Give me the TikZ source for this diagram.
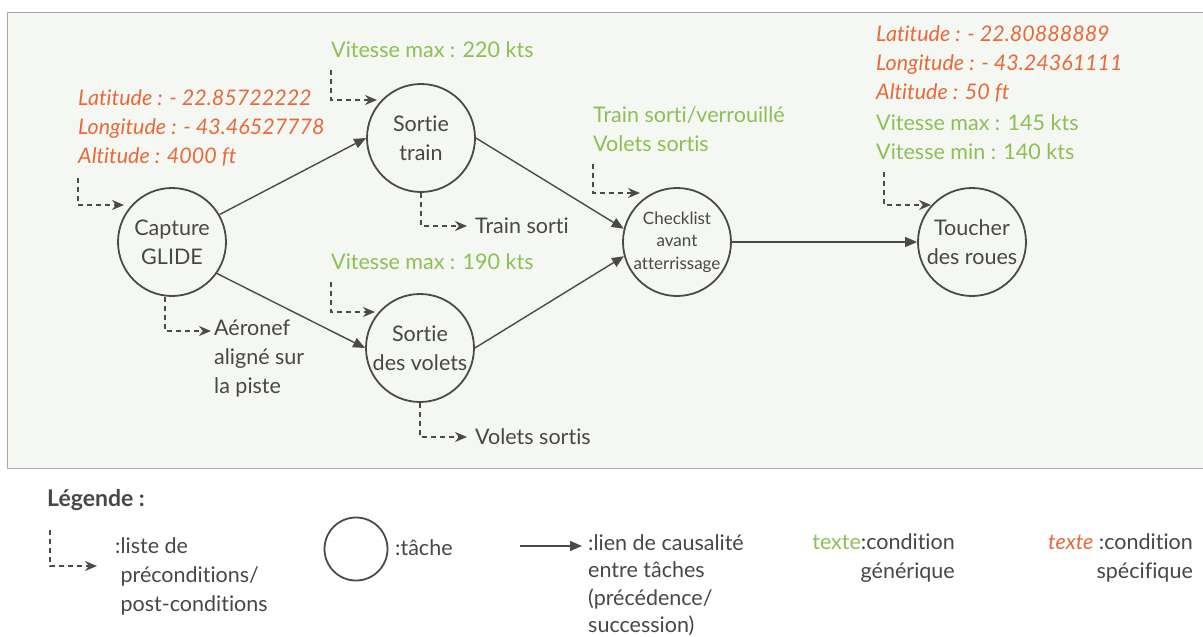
\documentclass[tikz,border=0pt]{standalone}
\usepackage{fontspec}
\setmainfont{Lato}[Ligatures={NoCommon,NoContextual}]
\usetikzlibrary{arrows.meta}
\definecolor{txt}{HTML}{474747}
\definecolor{lin}{HTML}{4A4A4A}
\definecolor{gen}{HTML}{8CC055}
\definecolor{spec}{HTML}{E8693A}
\definecolor{panel}{HTML}{F5F8F2}
\definecolor{frame}{HTML}{A8A8A8}
\newcommand{\fz}{\fontsize{21.5}{29}\selectfont}
\tikzset{
  task/.style={circle,draw=lin,line width=1.8pt,minimum size=108pt,inner sep=0pt,align=center,text=txt,font=\fz},
  cause/.style={draw=lin,line width=1.4pt,-{Triangle[length=12pt,width=10pt]}},
  cond/.style={draw=lin,line width=1.3pt,dash pattern=on 5pt off 4pt,-{Stealth[length=12pt,width=10pt]}},
  gtext/.style={anchor=west,inner sep=0pt,align=left,text=gen,font=\fz},
  stext/.style={anchor=west,inner sep=0pt,align=left,text=spec,font=\fz\itshape},
  ptext/.style={anchor=west,inner sep=0pt,align=left,text=txt,font=\fz},
}
\begin{document}
\begin{tikzpicture}[x=1pt,y=-1pt]
\useasboundingbox (0,0) rectangle (1203,637);
\fill[white] (0,0) rectangle (1203,637);
\draw[frame,fill=panel,line width=1pt] (7,12) rectangle (1210,468);

% tasks
\node[task] (cap) at (172,242) {Capture\\GLIDE};
\node[task] (st) at (421,138) {Sortie\\train};
\node[task] (sv) at (420,348) {Sortie\\des volets};
\node[task,font=\fontsize{17}{22.5}\selectfont] (cl) at (677,242) {Checklist\\avant\\atterrissage};
\node[task] (tt) at (972,242) {Toucher\\des roues};

% causal links
\draw[cause] (cap.30) -- (st.west);
\draw[cause] (cap.-35) -- (sv.west);
\draw[cause] (st.east) -- (cl.166);
\draw[cause] (sv.east) -- (cl.195);
\draw[cause] (cl.east) -- (tt.west);

% conditions
\node[stext] (capspec) at (78,128) {Latitude : - 22.85722222\\Longitude : - 43.46527778\\Altitude : 4000 ft};
\coordinate (capin) at (124,205);
\draw[cond] ([yshift=-12pt]capspec.south west) |- (capin);

\node[gtext] (stpre) at (331,50) {Vitesse max : 220 kts};
\coordinate (stin) at (377,100);
\draw[cond] ([yshift=-12pt]stpre.south west) |- (stin);

\node[ptext] (stpost) at (475,226) {Train sorti};
\draw[cond] (st.south) |- ([xshift=-8pt]stpost.west);

\node[gtext] (svpre) at (331,262) {Vitesse max : 190 kts};
\coordinate (svin) at (375,312);
\draw[cond] ([yshift=-12pt]svpre.south west) |- (svin);

\node[ptext] (svpost) at (475,437) {Volets sortis};
\draw[cond] (sv.south) |- ([xshift=-8pt]svpost.west);

\node[ptext] (cappost) at (214,359) {Aéronef\\aligné sur\\la piste};
\coordinate (capout) at (211,331);
\draw[cond] ([xshift=-7pt]cap.south) |- (capout);

\node[gtext] (clpre) at (593,129) {Train sorti/verrouillé\\Volets sortis};
\coordinate (clin) at (640,193);
\draw[cond] ([yshift=-12pt]clpre.south west) |- (clin);

\node[stext] (ttspec) at (876,64) {Latitude : - 22.80888889\\Longitude : - 43.24361111\\Altitude : 50 ft};
\node[gtext] (ttpre) at (876,137) {Vitesse max : 145 kts\\Vitesse min : 140 kts};
\coordinate (ttin) at (931,205);
\draw[cond] ([xshift=8pt,yshift=-12pt]ttpre.south west) |- (ttin);

% legend
\node[ptext,font=\fontsize{23}{29}\selectfont\bfseries] (leg) at (47,500) {Légende :};
\coordinate (legtop) at (50,530);
\coordinate (legend1) at (97,566);
\draw[cond] (legtop) |- (legend1);
\node[ptext] (legt1) at (115,576) {:liste de\\\phantom{:}préconditions/\\\phantom{:}post-conditions};
\node[circle,draw=lin,line width=1.8pt,minimum size=63pt,inner sep=0pt] (legc) at (356,549) {};
\node[ptext] (legt2) at (395,548) {:tâche};
\coordinate (lega) at (520,546);
\coordinate (legb) at (582,546);
\draw[cause] (lega) -- (legb);
\node[ptext,font=\fontsize{21.5}{27.5}\selectfont] (legt3) at (588,585) {:lien de causalité\\entre tâches\\(précédence/\\succession)};
\node[ptext,anchor=north east,align=right] (legt4) at (955,533) {\textcolor{gen}{texte}:condition\\générique};
\node[ptext,anchor=north east,align=right] (legt5) at (1193,533) {\textcolor{spec}{\itshape texte} :condition\\spécifique};
\end{tikzpicture}
\end{document}
